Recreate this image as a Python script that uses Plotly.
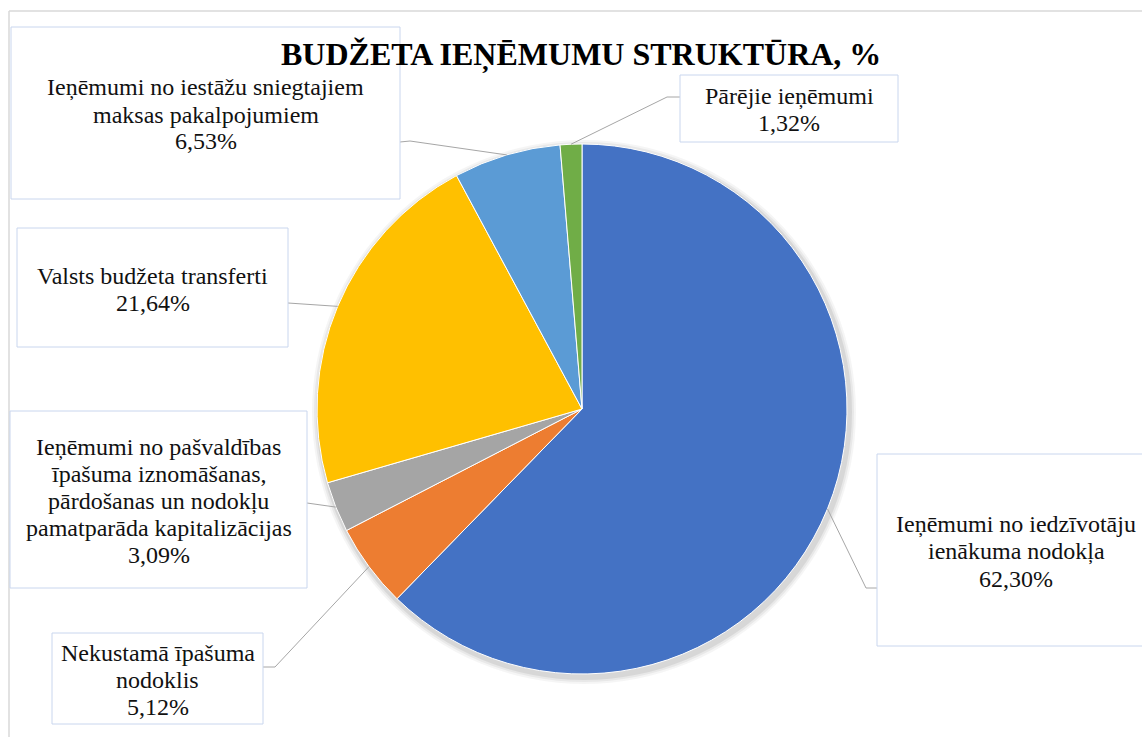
import math
import plotly.graph_objects as go

W, H = 1142, 737

categories = [
    "Ieņēmumi no iedzīvotāju<br>ienākuma nodokļa",
    "Nekustamā īpašuma<br>nodoklis",
    "Ieņēmumi no pašvaldības<br>īpašuma iznomāšanas,<br>pārdošanas un nodokļu<br>pamatparāda kapitalizācijas",
    "Valsts budžeta transferti",
    "Ieņēmumi no iestāžu sniegtajiem<br>maksas pakalpojumiem",
    "Pārējie ieņēmumi",
]
values = [62.30, 5.12, 3.09, 21.64, 6.53, 1.32]
value_labels = ["62,30%", "5,12%", "3,09%", "21,64%", "6,53%", "1,32%"]
colors = ["#4472C4", "#ED7D31", "#A5A5A5", "#FFC000", "#5B9BD5", "#70AD47"]
title_text = "BUDŽETA IEŅĒMUMU STRUKTŪRA, %"

# layout (pixels)
CX, CY, R = 582, 409, 265
boxes = [  # x0, y0, x1, y1
    (877, 454, 1155, 646),
    (52, 633, 263, 724),
    (10, 411, 307, 588),
    (17, 228, 288, 347),
    (11, 27, 400, 199),
    (680, 75, 898, 142),
]
elbows = [(866, 588), (275, 667), None, None, (410, 141), (667, 97)]
box_ends = [(877, 588), (263, 667), (307, 503), (288, 303), (400, 142), (680, 97)]
LINE_GAP = 27
SERIF = "Liberation Serif, Times New Roman, serif"


def px(x):
    return x / W


def py(y):
    return 1 - y / H


fig = go.Figure()
fig.add_trace(go.Pie(
    values=values,
    labels=[c.replace("<br>", " ") for c in categories],
    sort=False,
    direction="clockwise",
    rotation=0,
    marker=dict(colors=colors, line=dict(color="white", width=1)),
    textinfo="none",
    hoverinfo="label+percent",
    showlegend=False,
    domain=dict(x=[px(CX - R), px(CX + R)], y=[py(CY + R), py(CY - R)]),
))

shapes = []
annotations = []
# soft shadow behind the pie
for k, op in [(7, 0.04), (5, 0.05), (3, 0.07)]:
    shapes.append(dict(type="circle", xref="paper", yref="paper", layer="below",
                       x0=px(CX - R - k + 2), x1=px(CX + R + k + 2), y0=py(CY + R + k + 3), y1=py(CY - R - k + 3),
                       line=dict(width=0), fillcolor=f"rgba(0,0,0,{op})"))
# outer chart border
shapes.append(dict(type="line", xref="paper", yref="paper", x0=px(9), x1=px(W + 5), y0=py(11), y1=py(11),
                   line=dict(color="#d9d9d9", width=1.5)))
shapes.append(dict(type="line", xref="paper", yref="paper", x0=px(9), x1=px(9), y0=py(11), y1=py(H + 5),
                   line=dict(color="#d9d9d9", width=1.5)))

total = sum(values)
cum = 0.0
for i, v in enumerate(values):
    mid = (cum + v / 2) / total * 2 * math.pi
    cum += v
    ex = CX + R * math.sin(mid)
    ey = CY - R * math.cos(mid)
    pts = [(ex, ey)]
    if elbows[i] is not None:
        pts.append(elbows[i])
    pts.append(box_ends[i])
    path = "M " + " L ".join(f"{px(x)},{py(y)}" for x, y in pts)
    shapes.append(dict(type="path", xref="paper", yref="paper", path=path,
                       line=dict(color="#a6a6a6", width=1)))
    x0, y0, x1, y1 = boxes[i]
    shapes.append(dict(type="rect", xref="paper", yref="paper", x0=px(x0), x1=px(x1), y0=py(y1), y1=py(y0),
                       line=dict(color="#c9d6ee", width=1), fillcolor="white", layer="above"))
    lines = categories[i].split("<br>") + [value_labels[i]]
    n = len(lines)
    tcx = (x0 + x1) / 2
    tcy = (y0 + y1) / 2 + 1.5
    for k, ln in enumerate(lines):
        annotations.append(dict(
            xref="paper", yref="paper", x=px(tcx), y=py(tcy + (k - (n - 1) / 2) * LINE_GAP),
            text=ln, showarrow=False,
            xanchor="center", yanchor="middle", align="center",
            font=dict(family=SERIF, size=24, color="#111111"),
        ))

annotations.append(dict(
    xref="paper", yref="paper", x=px(581), y=py(54),
    text=f"<b>{title_text}</b>", showarrow=False,
    xanchor="center", yanchor="middle",
    font=dict(family=SERIF, size=32, color="#000000"),
))

fig.update_layout(
    width=W, height=H,
    margin=dict(l=0, r=0, t=0, b=0),
    paper_bgcolor="white", plot_bgcolor="white",
    shapes=shapes, annotations=annotations,
)
fig.write_html("out.html", config={"displayModeBar": False},
               post_script="document.body.style.margin='0';document.body.style.overflow='hidden';")
